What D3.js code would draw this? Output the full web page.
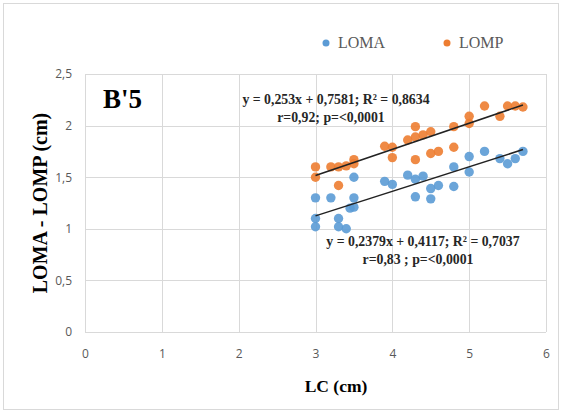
<!DOCTYPE html>
<html>
<head>
<meta charset="utf-8">
<script src="https://cdn.jsdelivr.net/npm/d3@7"></script>
<style>
  body { margin: 0; background: #fff; }
  svg { display: block; }
</style>
</head>
<body>
<svg id="chart"></svg>
<script>
// Canvas settings
const WIDTH = 562;
const HEIGHT = 413;

// Data
const lomaX = [3.0, 3.0, 3.0, 3.2, 3.3, 3.3, 3.4, 3.5, 3.5, 3.45, 3.5, 3.9, 4.0, 4.2, 4.3,
               4.3, 4.4, 4.5, 4.5, 4.6, 4.8, 4.8, 5.0, 5.0, 5.2, 5.4, 5.5, 5.6, 5.7];
const lomaY = [1.10, 1.02, 1.30, 1.30, 1.10, 1.02, 1.00, 1.30, 1.50, 1.20, 1.21, 1.46, 1.43, 1.52, 1.48,
               1.31, 1.51, 1.39, 1.29, 1.42, 1.41, 1.60, 1.70, 1.55, 1.75, 1.68, 1.63, 1.68, 1.75];

const lompX = [3.0, 3.0, 3.2, 3.3, 3.3, 3.4, 3.5, 3.5, 3.9, 4.0, 4.0, 4.2, 4.3, 4.3, 4.3,
               4.4, 4.5, 4.5, 4.6, 4.8, 4.8, 5.0, 5.0, 5.2, 5.4, 5.5, 5.6, 5.7];
const lompY = [1.60, 1.50, 1.60, 1.42, 1.60, 1.61, 1.67, 1.63, 1.80, 1.79, 1.69, 1.86, 1.99, 1.89, 1.67,
               1.91, 1.94, 1.73, 1.75, 1.99, 1.79, 2.09, 2.02, 2.19, 2.09, 2.19, 2.19, 2.18];

// Trend lines (slope, intercept) and their labels
const lomaFit = [0.2379, 0.4117];
const lompFit = [0.253, 0.7581];
const fitRange = [3, 5.7];
const lompLabel = ['y = 0,253x + 0,7581; R² = 0,8634', 'r=0,92; p=<0,0001'];
const lomaLabel = ['y = 0,2379x + 0,4117; R² = 0,7037', 'r=0,83 ; p=<0,0001'];

const xTicks = [0, 1, 2, 3, 4, 5, 6];
const yTicks = [0, 0.5, 1, 1.5, 2, 2.5];

const BLUE = '#5b9bd5';
const ORANGE = '#ed7d31';
const GRID = '#d9d9d9';
const TICK_TEXT = '#595959';
const SERIF = '"Liberation Serif", "DejaVu Serif", serif';
const NARROW = '"Liberation Sans Narrow", "Open Sans", "Liberation Sans", sans-serif';

const svg = d3.select('#chart').attr('width', WIDTH).attr('height', HEIGHT);

// outer chart border
svg.append('rect')
    .attr('x', 3.5).attr('y', 3.5)
    .attr('width', WIDTH - 7).attr('height', HEIGHT - 7)
    .attr('fill', '#fff').attr('stroke', GRID);

const x = d3.scaleLinear().domain([0, 6]).range([85, 546]);
const y = d3.scaleLinear().domain([0, 2.5]).range([332, 74]);

// gridlines
svg.append('g').selectAll('line').data(yTicks).join('line')
    .attr('x1', x(0)).attr('x2', x(6))
    .attr('y1', d => Math.round(y(d)) + 0.5).attr('y2', d => Math.round(y(d)) + 0.5)
    .attr('stroke', GRID);
svg.append('g').selectAll('line').data(xTicks).join('line')
    .attr('y1', y(0)).attr('y2', y(2.5))
    .attr('x1', d => Math.round(x(d)) + 0.5).attr('x2', d => Math.round(x(d)) + 0.5)
    .attr('stroke', GRID);

// axes (labels only, comma decimal)
const fmt = d => String(d).replace('.', ',');
const xAxis = svg.append('g')
    .attr('transform', `translate(0,${y(0)})`)
    .call(d3.axisBottom(x).tickValues(xTicks).tickSize(0).tickPadding(17).tickFormat(fmt));
const yAxis = svg.append('g')
    .attr('transform', `translate(${x(0)},0)`)
    .call(d3.axisLeft(y).tickValues(yTicks).tickSize(0).tickPadding(13).tickFormat(fmt));
[xAxis, yAxis].forEach(a => {
    a.select('.domain').remove();
    a.selectAll('text')
        .attr('fill', TICK_TEXT)
        .style('font-family', NARROW)
        .style('font-size', '12px');
});

// trend lines
function drawFit(fit) {
    svg.append('line')
        .attr('x1', x(fitRange[0])).attr('y1', y(fit[0] * fitRange[0] + fit[1]))
        .attr('x2', x(fitRange[1])).attr('y2', y(fit[0] * fitRange[1] + fit[1]))
        .attr('stroke', '#222').attr('stroke-width', 1.5);
}

// points
function drawPoints(xs, ys, color) {
    svg.append('g').selectAll('circle').data(xs).join('circle')
        .attr('cx', d => x(d))
        .attr('cy', (d, i) => y(ys[i]))
        .attr('r', 4.7)
        .attr('fill', color)
        .attr('opacity', 0.9);
}
drawPoints(lomaX, lomaY, BLUE);
drawPoints(lompX, lompY, ORANGE);
drawFit(lomaFit);
drawFit(lompFit);

// equation labels, one centre per line
function drawLabel(lines, centres, baseline) {
    svg.append('text')
        .attr('text-anchor', 'middle')
        .style('font-family', SERIF)
        .style('font-weight', 'bold')
        .style('font-size', '13.8px')
        .attr('fill', '#262626')
        .selectAll('tspan').data(lines).join('tspan')
        .attr('x', (d, i) => centres[i])
        .attr('y', (d, i) => baseline + i * 18)
        .text(d => d);
}
drawLabel(lompLabel, [336, 331], 104);
drawLabel(lomaLabel, [423, 418], 246);

// panel title
svg.append('text')
    .attr('x', 103).attr('y', 108)
    .style('font-family', SERIF)
    .style('font-weight', 'bold')
    .style('font-size', '27px')
    .text("B'5");

// axis titles
svg.append('text')
    .attr('x', 336).attr('y', 392)
    .attr('text-anchor', 'middle')
    .style('font-family', SERIF).style('font-weight', 'bold').style('font-size', '17.5px')
    .text('LC (cm)');
svg.append('text')
    .attr('transform', `translate(47,${(y(0) + y(2.5)) / 2}) rotate(-90)`)
    .attr('text-anchor', 'middle')
    .style('font-family', SERIF).style('font-weight', 'bold').style('font-size', '20px')
    .text('LOMA - LOMP (cm)');

// legend
const legend = [['LOMA', BLUE, 326], ['LOMP', ORANGE, 447]];
legend.forEach(([name, color, lx]) => {
    svg.append('circle').attr('cx', lx).attr('cy', 43).attr('r', 3.5).attr('fill', color);
    svg.append('text')
        .attr('x', lx + 12).attr('y', 48)
        .attr('fill', TICK_TEXT)
        .style('font-family', SERIF).style('font-size', '16px')
        .text(name);
});
</script>
</body>
</html>
